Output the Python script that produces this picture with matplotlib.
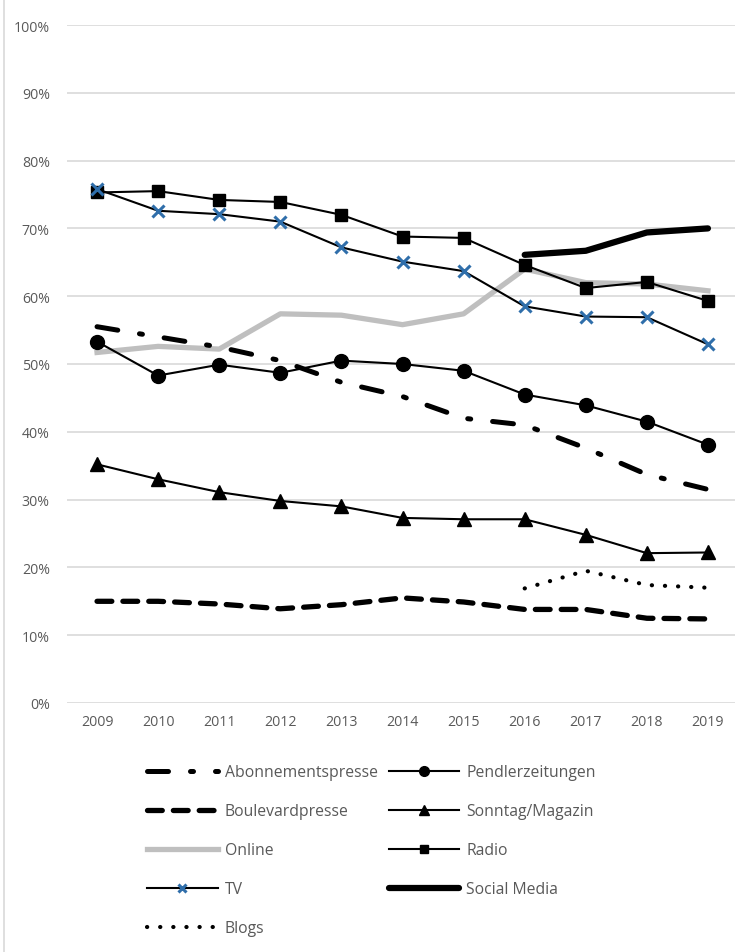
import matplotlib.pyplot as plt
from matplotlib.lines import Line2D
from matplotlib.ticker import PercentFormatter

plt.rcParams['font.family'] = ['Open Sans', 'DejaVu Sans']

years = [2009, 2010, 2011, 2012, 2013, 2014, 2015, 2016, 2017, 2018, 2019]

# shares in percent per year (None = no data)
abonnementspresse = [55.5, 54.0, 52.5, 50.5, 47.3, 45.2, 42.0, 41.0, 37.6, 33.7, 31.5]
pendlerzeitungen = [53.3, 48.3, 49.9, 48.7, 50.5, 50.0, 49.0, 45.5, 43.9, 41.5, 38.1]
boulevardpresse = [15.0, 15.0, 14.6, 13.9, 14.5, 15.5, 14.9, 13.8, 13.8, 12.5, 12.4]
sonntag_magazin = [35.2, 33.0, 31.1, 29.8, 29.0, 27.3, 27.1, 27.1, 24.8, 22.1, 22.2]
online = [51.7, 52.6, 52.2, 57.4, 57.2, 55.8, 57.4, 64.0, 62.0, 61.8, 60.8]
radio = [75.3, 75.5, 74.2, 73.9, 72.0, 68.8, 68.6, 64.6, 61.2, 62.1, 59.3]
tv = [75.8, 72.6, 72.1, 71.0, 67.2, 65.1, 63.7, 58.5, 57.0, 56.9, 52.9]
social_media = [None, None, None, None, None, None, None, 66.1, 66.7, 69.4, 70.0]
blogs = [None, None, None, None, None, None, None, 16.9, 19.5, 17.4, 17.0]

TEXT = '#595959'
GRID = '#D9D9D9'
TV_BLUE = '#2F6EAA'


def pairs(values):
    xs = [i for i, v in enumerate(values) if v is not None]
    ys = [values[i] for i in xs]
    return xs, ys


fig = plt.figure(figsize=(7.35, 9.53), dpi=100)
ax = fig.add_axes([66.5 / 735, 249 / 953, 672 / 735, 678 / 953])

styles = {
    'Abonnementspresse': dict(color='black', lw=3.6, linestyle=(0, (4.2, 4.4, 0.6, 4.4)),
                              dash_capstyle='round'),
    'Pendlerzeitungen': dict(color='black', lw=1.5, marker='o', markersize=10),
    'Boulevardpresse': dict(color='black', lw=3.8, linestyle=(0, (2.8, 2.1)),
                            dash_capstyle='round'),
    'Sonntag/Magazin': dict(color='black', lw=1.5, marker='^', markersize=9.5),
    'Online': dict(color='#BFBFBF', lw=3.8),
    'Radio': dict(color='black', lw=1.5, marker='s', markersize=9),
    'TV': dict(color='black', lw=1.5, marker='x', markersize=9, markeredgecolor=TV_BLUE,
               markeredgewidth=2.2),
    'Social Media': dict(color='black', lw=4.5, solid_capstyle='round'),
    'Blogs': dict(color='black', lw=3.0, linestyle=(0, (0.05, 3.1)), dash_capstyle='round'),
}
series = {
    'Abonnementspresse': abonnementspresse,
    'Pendlerzeitungen': pendlerzeitungen,
    'Boulevardpresse': boulevardpresse,
    'Sonntag/Magazin': sonntag_magazin,
    'Online': online,
    'Radio': radio,
    'TV': tv,
    'Social Media': social_media,
    'Blogs': blogs,
}

# drawing order: background lines first, marker series on top
order = ['Online', 'Abonnementspresse', 'Boulevardpresse', 'Blogs', 'Social Media',
         'Sonntag/Magazin', 'Pendlerzeitungen', 'Radio', 'TV']
for name in order:
    xs, ys = pairs(series[name])
    ax.plot(xs, ys, **styles[name])

ax.set_xlim(-0.5, len(years) - 0.5)
ax.set_ylim(0, 100)
ax.set_yticks(range(0, 101, 10))
ax.yaxis.set_major_formatter(PercentFormatter(decimals=0))
ax.set_xticks(range(len(years)))
ax.set_xticklabels([str(y) for y in years])
ax.grid(axis='y', color=GRID, lw=1.2)
ax.set_axisbelow(True)
for s in ax.spines.values():
    s.set_visible(False)
ax.tick_params(length=0, labelsize=10.2, labelcolor=TEXT)
ax.tick_params(axis='y', pad=12)
ax.tick_params(axis='x', pad=8)

# chart frame on the left
fig.add_artist(Line2D([4 / 735, 4 / 735], [0, 1], color=GRID, lw=1.2))

# legend, filled column by column
legend_order = ['Abonnementspresse', 'Boulevardpresse', 'Online', 'TV', 'Blogs',
                'Pendlerzeitungen', 'Sonntag/Magazin', 'Radio', 'Social Media']
handles = []
for name in legend_order:
    st = dict(styles[name])
    if 'markersize' in st:
        st['markersize'] = st['markersize'] * 0.7
    handles.append(Line2D([], [], **st))
leg = fig.legend(handles, legend_order, loc='upper left', ncol=2,
                 bbox_to_anchor=(147 / 735, 1 - 765 / 953), frameon=False,
                 fontsize=11.3, handlelength=4.5, handletextpad=0.45,
                 columnspacing=0.7, labelspacing=1.47, borderpad=0, borderaxespad=0)
for t in leg.get_texts():
    t.set_color(TEXT)

fig.savefig('out.png', dpi=100)
